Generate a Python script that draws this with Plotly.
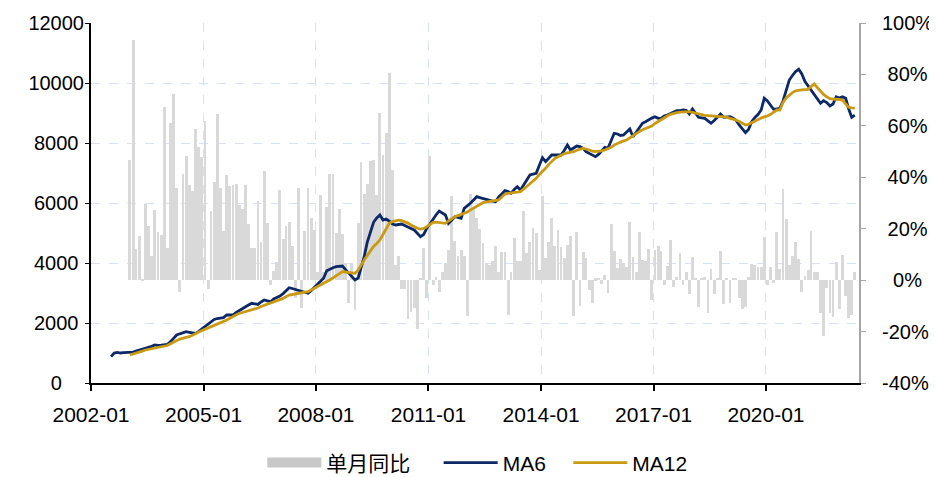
import pandas as pd
import plotly.graph_objects as go

# ---------------- data ----------------
# MA6, monthly, starts 2002-07
ma6_2002 = [880, 1000, 1020, 1000, 1010, 1010]
ma6_2003 = [1020, 1030, 1060, 1090, 1120, 1155, 1180, 1220, 1267, 1250, 1260, 1267]
ma6_2004 = [1290, 1380, 1480, 1600, 1640, 1680, 1710, 1690, 1670, 1655, 1720, 1800]
ma6_2005 = [1877, 1950, 2040, 2120, 2150, 2170, 2180, 2267, 2260, 2267, 2350, 2420]
ma6_2006 = [2490, 2540, 2600, 2657, 2640, 2620, 2700, 2767, 2740, 2710, 2800, 2850]
ma6_2007 = [2900, 2980, 3077, 3177, 3150, 3120, 3100, 3060, 3020, 2990, 3080, 3180]
ma6_2008 = [3267, 3380, 3490, 3743, 3800, 3840, 3877, 3890, 3900, 3780, 3657, 3550]
ma6_2009 = [3433, 3500, 3800, 4210, 4700, 5000, 5357, 5500, 5600, 5433, 5467, 5400]
ma6_2010 = [5300, 5267, 5280, 5300, 5250, 5210, 5150, 5100, 5000, 4877, 4950, 5157]
ma6_2011 = [5300, 5467, 5600, 5733, 5680, 5600, 5323, 5450, 5543, 5520, 5490, 5823]
ma6_2012 = [5900, 6000, 6100, 6210, 6180, 6150, 6100, 6080, 6060, 6043, 6200, 6300]
ma6_2013 = [6410, 6380, 6323, 6450, 6543, 6433, 6600, 6800, 6933, 6960, 6990, 7250]
ma6_2014 = [7510, 7377, 7500, 7600, 7600, 7600, 7600, 7750, 7933, 7767, 7850, 7900]
ma6_2015 = [7880, 7820, 7710, 7650, 7600, 7543, 7620, 7750, 7857, 7823, 8050, 8323]
ma6_2016 = [8300, 8250, 8267, 8380, 8467, 8210, 8350, 8500, 8657, 8710, 8780, 8830]
ma6_2017 = [8877, 8823, 8823, 8900, 8933, 8990, 9030, 9077, 9080, 9100, 9090, 8967]
ma6_2018 = [9133, 9000, 8857, 8840, 8823, 8740, 8657, 8750, 8850, 8967, 8857, 8870]
ma6_2019 = [8877, 8823, 8760, 8600, 8480, 8343, 8450, 8710, 8850, 8950, 9100, 9490]
ma6_2020 = [9400, 9250, 9123, 9140, 9157, 9400, 9750, 10100, 10250, 10380, 10457, 10300]
ma6_2021 = [10050, 9900, 9750, 9600, 9450, 9323, 9410, 9350, 9233, 9300, 9543, 9500]
ma6_2022 = [9543, 9490, 9150, 8857, 8933]

# MA12, monthly, starts 2003-01
ma12_2003 = [933, 960, 990, 1020, 1060, 1100, 1120, 1140, 1160, 1180, 1195, 1210]
ma12_2004 = [1250, 1310, 1377, 1420, 1460, 1500, 1520, 1543, 1580, 1640, 1700, 1750]
ma12_2005 = [1790, 1830, 1880, 1920, 1960, 2000, 2043, 2100, 2160, 2220, 2270, 2323]
ma12_2006 = [2350, 2380, 2410, 2440, 2457, 2500, 2550, 2590, 2630, 2670, 2710, 2740]
ma12_2007 = [2767, 2820, 2880, 2933, 2950, 2967, 2990, 3010, 3030, 3043, 3100, 3160]
ma12_2008 = [3210, 3270, 3330, 3380, 3433, 3500, 3570, 3640, 3710, 3700, 3680, 3660]
ma12_2009 = [3657, 3760, 3930, 4100, 4250, 4400, 4550, 4650, 4767, 4950, 5150, 5323]
ma12_2010 = [5380, 5420, 5430, 5410, 5380, 5330, 5267, 5210, 5157, 5130, 5150, 5210]
ma12_2011 = [5280, 5357, 5360, 5340, 5330, 5323, 5400, 5480, 5543, 5580, 5620, 5657]
ma12_2012 = [5700, 5770, 5820, 5877, 5950, 6010, 6030, 6050, 6070, 6080, 6100, 6200]
ma12_2013 = [6300, 6320, 6340, 6350, 6360, 6377, 6450, 6550, 6640, 6730, 6823, 6950]
ma12_2014 = [7050, 7157, 7280, 7400, 7480, 7543, 7600, 7640, 7670, 7690, 7710, 7760]
ma12_2015 = [7800, 7823, 7800, 7760, 7730, 7710, 7720, 7740, 7767, 7800, 7860, 7930]
ma12_2016 = [7990, 8030, 8070, 8100, 8170, 8250, 8323, 8380, 8440, 8490, 8530, 8567]
ma12_2017 = [8650, 8720, 8790, 8850, 8900, 8957, 8990, 9010, 9030, 9040, 9050, 9043]
ma12_2018 = [9020, 8990, 8960, 8933, 8920, 8910, 8900, 8890, 8880, 8877, 8870, 8860]
ma12_2019 = [8823, 8800, 8767, 8720, 8660, 8600, 8623, 8680, 8740, 8790, 8830, 8870]
ma12_2020 = [8900, 8957, 9020, 9100, 9100, 9350, 9500, 9600, 9680, 9740, 9767, 9770]
ma12_2021 = [9780, 9790, 9880, 9967, 9850, 9720, 9620, 9540, 9480, 9467, 9467, 9450]
ma12_2022 = [9433, 9300, 9190, 9170, 9160]

# 单月同比 (%), monthly, starts 2003-01
yoy_2003 = [46.6, 93.5, 12, 17, 0.5, 29.6, 21, 9.5, 27.4, 18.6, 17.4, 67.2]
yoy_2004 = [12.5, 61, 72.4, 35.8, -4.6, 41.4, 48.2, 37.1, 34.8, 58.9, 51.8, 47.9]
yoy_2005 = [62, -3.3, 26.7, 38, 64.7, 35.8, 19, 40.8, 36.8, 37, 37.5, 29.3]
yoy_2006 = [27.7, 37, 21.9, 12.5, 12.5, 30.9, 14.8, 42.3, 22.2, -1.8, 3.4, 7]
yoy_2007 = [35.2, 16, 20.9, 22.6, 13.1, -6.8, 36, -11, 19, 35.8, 24, 19.6]
yoy_2008 = [3, 33, 3, 28.6, 41.4, 41.4, 18.3, 27.7, 18, 6.7, -8.7, 6.7]
yoy_2009 = [-11.6, 22.4, 46, 33.5, 37.5, 46.5, 46.8, 33, 65, 48.7, 57.2, 80.6]
yoy_2010 = [42.9, 6, 9.5, -3.5, -3.3, -15, -12.2, -11, -19, 1, 12.5, -6.8]
yoy_2011 = [48.2, -2, 1.2, -4.7, 3, 6.8, 11.8, 32.8, 15.3, 9.5, 11.8, 9.3]
yoy_2012 = [-14, 33.5, 28.6, 24, 19.8, 14.3, 6.7, 6, 7.5, 13.1, 3, 10.8]
yoy_2013 = [10.8, -13.4, 3, 16.3, 7.5, 7.3, 26.7, 10.5, 15, 20.2, 18.3, 3.8]
yoy_2014 = [32.8, 8.7, 14.8, 24, 13.1, 19.6, 12.8, 8.7, 13.8, 17, -14, 18.6]
yoy_2015 = [-10, 10.8, 8.7, -4, -8.9, 0.7, 1, -1.4, 1.9, -5, 21.8, 11.3]
yoy_2016 = [4.7, 8.4, 6.7, 5.3, 22.6, 9, 3, 18.6, 8, 7.3, 12, -7.7]
yoy_2017 = [11.8, 13.3, 11.5, -2, 5.5, 15.8, -2.6, 1.2, 10.5, -1.7, 3, -5.5]
yoy_2018 = [9, 1, -10.5, 1, 1.2, -12.6, 4.3, -5.5, 1, 11.4, -9.4, 1]
yoy_2019 = [-9, 1, 1, -6.8, -11.3, -10.5, 1.3, 6.4, 6, 5.3, 5.3, 16.7]
yoy_2020 = [-2, 5.3, -1, 18.6, 4.2, 35.3, 23.7, 6, 9.3, 15, 8.3, -4.7]
yoy_2021 = [1.5, 4, 19, 3, 3, -12.9, -21.7, -3, -12.6, -14.5, 7, -11.3]
yoy_2022 = [9.6, -6, -14.6, -13.4, 3]

# axis ticks
left_tickvals = [0, 2000, 4000, 6000, 8000, 10000, 12000]
left_ticktext = ["0\u2007\u2007", "2000\u2008", "4000\u2008", "6000\u2008",
                 "8000\u2008", "10000", "12000"]
right_tickvals = [-0.4, -0.2, 0, 0.2, 0.4, 0.6, 0.8, 1.0]
right_ticktext = ["-40%", "-20%", "\u20070%", "\u200820%", "\u200840%",
                  "\u200860%", "\u200880%", "100%"]

# ---------------- assemble series ----------------
MA6 = (ma6_2002 + ma6_2003 + ma6_2004 + ma6_2005 + ma6_2006 + ma6_2007 + ma6_2008
       + ma6_2009 + ma6_2010 + ma6_2011 + ma6_2012 + ma6_2013 + ma6_2014 + ma6_2015
       + ma6_2016 + ma6_2017 + ma6_2018 + ma6_2019 + ma6_2020 + ma6_2021 + ma6_2022)
MA12 = (ma12_2003 + ma12_2004 + ma12_2005 + ma12_2006 + ma12_2007 + ma12_2008
        + ma12_2009 + ma12_2010 + ma12_2011 + ma12_2012 + ma12_2013 + ma12_2014
        + ma12_2015 + ma12_2016 + ma12_2017 + ma12_2018 + ma12_2019 + ma12_2020
        + ma12_2021 + ma12_2022)
YOY = (yoy_2003 + yoy_2004 + yoy_2005 + yoy_2006 + yoy_2007 + yoy_2008 + yoy_2009
       + yoy_2010 + yoy_2011 + yoy_2012 + yoy_2013 + yoy_2014 + yoy_2015 + yoy_2016
       + yoy_2017 + yoy_2018 + yoy_2019 + yoy_2020 + yoy_2021 + yoy_2022)

off = pd.Timedelta(days=14)
ma6_dates = pd.date_range("2002-07-01", periods=len(MA6), freq="MS") + off
ma12_dates = pd.date_range("2003-01-01", periods=len(MA12), freq="MS") + off
yoy_dates = pd.date_range("2003-01-01", periods=len(YOY), freq="MS") + off
yoy_frac = [v / 100 for v in YOY]

FONT = "Liberation Sans, Noto Sans CJK SC, sans-serif"
GRID = "#d6e2f0"
BAR_COLOR = "#d9d9d9"
NB = "\u00a0"

fig = go.Figure()
fig.add_trace(go.Bar(x=yoy_dates, y=yoy_frac, name="单月同比",
                     marker=dict(color=BAR_COLOR, line=dict(width=0)),
                     yaxis="y", showlegend=False, legendrank=1))
# legend swatch for the bars (wide grey block, as in the reference)
fig.add_trace(go.Scatter(x=[None], y=[None], name="单月同比" + NB * 4, mode="lines",
                         line=dict(color="#c8c8c8", width=14), yaxis="y",
                         legendrank=1))
fig.add_trace(go.Scatter(x=ma6_dates, y=MA6, name="MA6" + NB * 3, mode="lines",
                         line=dict(color="#0c2866", width=2.8), yaxis="y2",
                         legendrank=2))
fig.add_trace(go.Scatter(x=ma12_dates, y=MA12, name="MA12", mode="lines",
                         line=dict(color="#c99a12", width=2.8), yaxis="y2",
                         legendrank=3))

# the page body adds an 8px offset, so the figure is sized/placed to compensate
fig.update_layout(
    width=929, height=469,
    margin=dict(l=83, r=78, t=15, b=94, autoexpand=False),
    paper_bgcolor="white", plot_bgcolor="white",
    font=dict(family=FONT, size=19, color="#000000"),
    bargap=0,
    showlegend=True,
    legend=dict(orientation="h", x=0.503, xanchor="center", y=-0.222, yanchor="middle",
                font=dict(size=21), itemwidth=54, traceorder="normal",
                tracegroupgap=0),
    xaxis=dict(type="date", range=["2002-01-01", "2022-06-25"],
               tick0="2002-01-01", dtick="M36", tickformat="%Y-%m",
               ticks="outside", ticklen=6, tickcolor="#000000", tickwidth=1.5,
               showline=True, linecolor="#000000", linewidth=2,
               showgrid=True, gridcolor=GRID, griddash="dash", gridwidth=1,
               tickfont=dict(size=21), ticklabelstandoff=6, zeroline=False,
               automargin=False),
    yaxis=dict(side="right", range=[-0.4, 1.0],
               tickvals=right_tickvals, ticktext=right_ticktext,
               showgrid=False, zeroline=False,
               showline=True, linecolor="#a6a6a6", linewidth=2,
               ticks="outside", tickcolor="#a6a6a6", ticklen=5,
               tickfont=dict(size=20), ticklabelstandoff=12, automargin=False),
    yaxis2=dict(overlaying="y", side="left", range=[0, 12000],
                tickvals=left_tickvals, ticktext=left_ticktext,
                showgrid=True, gridcolor=GRID, griddash="dash", gridwidth=1,
                zeroline=False, showline=True, linecolor="#000000", linewidth=2,
                ticks="outside", tickcolor="#000000", ticklen=4,
                tickfont=dict(size=20), ticklabelstandoff=-3, automargin=False),
)

fig.write_html("out.html")
